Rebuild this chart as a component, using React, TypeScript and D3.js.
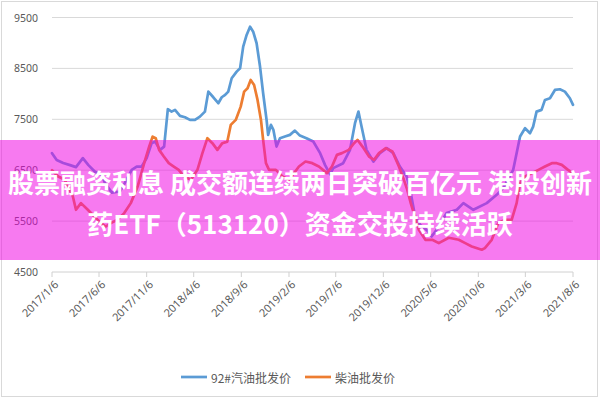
import React from "react";
import * as d3 from "d3";

const W = 600;
const H = 400;

const tickLabels = [
  "2017/1/6", "2017/6/6", "2017/11/6", "2018/4/6", "2018/9/6", "2019/2/6",
  "2019/7/6", "2019/12/6", "2020/5/6", "2020/10/6", "2021/3/6", "2021/8/6",
];
const yTicks = [4500, 5500, 6500, 7500, 8500, 9500];

const seriesNames = ["92#汽油批发价", "柴油批发价"];
const seriesColors = ["#5b9bd5", "#ed7d31"];

const titleLines = [
  "股票融资利息 成交额连续两日突破百亿元 港股创新",
  "药ETF（513120）资金交投持续活跃",
];

const gasolineDates = [
  "2017-01-06", "2017-01-21", "2017-02-11", "2017-03-05", "2017-03-24", "2017-04-15",
  "2017-05-03", "2017-05-24", "2017-06-15", "2017-06-25", "2017-07-17", "2017-08-12",
  "2017-08-28", "2017-09-19", "2017-10-05", "2017-10-21", "2017-11-06", "2017-11-22",
  "2017-12-03", "2017-12-19", "2018-01-01", "2018-01-13", "2018-01-25", "2018-02-05",
  "2018-02-21", "2018-03-09", "2018-03-25", "2018-04-10", "2018-04-26", "2018-05-12",
  "2018-05-23", "2018-06-08", "2018-06-24", "2018-07-05", "2018-07-16", "2018-07-26",
  "2018-08-06", "2018-08-22", "2018-09-02", "2018-09-12", "2018-09-23", "2018-10-04",
  "2018-10-14", "2018-10-25", "2018-11-05", "2018-11-15", "2018-11-26", "2018-12-01",
  "2018-12-10", "2018-12-18", "2018-12-28", "2019-01-08", "2019-01-24", "2019-02-09",
  "2019-02-25", "2019-03-13", "2019-04-03", "2019-04-25", "2019-05-17", "2019-06-02",
  "2019-06-18", "2019-06-28", "2019-07-30", "2019-08-21", "2019-09-06", "2019-09-17",
  "2019-09-27", "2019-10-13", "2019-11-04", "2019-11-25", "2019-12-17", "2020-01-07",
  "2020-01-28", "2020-02-19", "2020-03-01", "2020-03-17", "2020-04-02", "2020-04-23",
  "2020-05-09", "2020-05-25", "2020-06-26", "2020-07-29", "2020-08-19", "2020-09-20",
  "2020-11-02", "2020-12-04", "2020-12-25", "2021-01-26", "2021-02-17", "2021-03-05",
  "2021-03-21", "2021-03-31", "2021-04-11", "2021-04-27", "2021-05-08", "2021-05-24",
  "2021-06-09", "2021-06-25", "2021-07-11", "2021-07-27", "2021-08-06",
];
const gasolineValues = [
  6835, 6700, 6640, 6600, 6560, 6737,
  6600, 6470, 6409, 6250, 6060, 6081,
  6252, 6507, 6572, 6572, 6737, 7031,
  7062, 6899, 6964, 7698, 7651, 7685,
  7567, 7541, 7488, 7488, 7553, 7650,
  8044, 7933, 7816, 7933, 7979, 8044,
  8306, 8436, 8503, 8927, 9157, 9320,
  9221, 8994, 8536, 8012, 7488, 7194,
  7390, 7292, 6964, 7129, 7161, 7194,
  7278, 7180, 7129, 7063, 6835, 6600,
  6420, 6540, 6638, 6900, 7423, 7651,
  7357, 6900, 6670, 6835, 6933, 6835,
  6572, 6375, 6114, 5590, 5427, 5329,
  5198, 5329, 5657, 5722, 5853, 5722,
  5853, 6016, 6147, 6507, 7161, 7325,
  7227, 7357, 7651, 7685, 7881, 7914,
  8077, 8090, 8044, 7914, 7783,
];

const dieselDates = [
  "2017-01-06", "2017-01-26", "2017-02-16", "2017-03-14", "2017-03-24", "2017-04-09",
  "2017-05-01", "2017-05-22", "2017-06-12", "2017-06-28", "2017-07-14", "2017-08-04",
  "2017-08-26", "2017-09-16", "2017-10-08", "2017-10-29", "2017-11-14", "2017-11-25",
  "2017-12-05", "2017-12-16", "2017-12-31", "2018-01-16", "2018-02-01", "2018-02-17",
  "2018-03-06", "2018-03-28", "2018-04-18", "2018-05-04", "2018-05-20", "2018-06-05",
  "2018-06-21", "2018-07-07", "2018-07-23", "2018-08-03", "2018-08-19", "2018-09-04",
  "2018-09-15", "2018-09-26", "2018-10-06", "2018-10-17", "2018-10-28", "2018-11-08",
  "2018-11-15", "2018-11-24", "2018-12-04", "2018-12-26", "2019-01-16", "2019-02-06",
  "2019-03-10", "2019-03-31", "2019-04-22", "2019-05-13", "2019-06-08", "2019-06-24",
  "2019-07-10", "2019-07-26", "2019-08-17", "2019-09-03", "2019-09-14", "2019-09-30",
  "2019-10-21", "2019-11-06", "2019-11-22", "2019-12-14", "2020-01-04", "2020-01-25",
  "2020-02-10", "2020-02-21", "2020-03-03", "2020-03-29", "2020-04-19", "2020-05-11",
  "2020-06-01", "2020-07-03", "2020-08-04", "2020-08-25", "2020-09-15", "2020-10-17",
  "2020-10-27", "2020-11-18", "2020-12-09", "2020-12-31", "2021-01-21", "2021-02-06",
  "2021-02-17", "2021-03-05", "2021-03-27", "2021-04-17", "2021-05-08", "2021-05-30",
  "2021-06-15", "2021-07-01", "2021-07-21", "2021-08-06",
];
const dieselValues = [
  6500, 6375, 6311, 5983, 5722, 5853,
  5722, 5590, 5461, 5394, 5461, 5525,
  5657, 5853, 6179, 6638, 6964, 7160,
  7129, 6899, 6768, 6638, 6572, 6507,
  6375, 6311, 6507, 6835, 7129, 7031,
  6899, 7031, 7062, 7390, 7488, 7749,
  8044, 8110, 8273, 8175, 7881, 7488,
  7096, 6638, 6507, 6507, 6375, 6311,
  6572, 6670, 6638, 6572, 6442, 6572,
  6801, 6835, 6899, 7031, 7096, 6964,
  6768, 6703, 6835, 6933, 6866, 6572,
  6311, 6114, 5853, 5329, 5133, 5133,
  5068, 5172, 5133, 5068, 5001, 4937,
  4970, 5133, 5461, 5525, 5525, 5853,
  6246, 6375, 6442, 6507, 6572, 6638,
  6638, 6605, 6507, 6442,
];

const parse = d3.timeParse("%Y-%m-%d");
const parseTick = d3.timeParse("%Y/%m/%d");

export default function App() {
  const x = d3
    .scaleTime()
    .domain([parse("2017-01-06") as Date, parse("2021-08-06") as Date])
    .range([52, 573]);
  const y = d3.scaleLinear().domain([4500, 9500]).range([272, 17.5]);

  const line = d3
    .line<[Date, number]>()
    .x((d) => x(d[0]))
    .y((d) => y(d[1]));

  const gas: [Date, number][] = gasolineDates.map((d, i) => [parse(d) as Date, gasolineValues[i]]);
  const dsl: [Date, number][] = dieselDates.map((d, i) => [parse(d) as Date, dieselValues[i]]);

  const tickDates = tickLabels.map((t) => parseTick(t) as Date);
  const labelFont = "'Noto Sans', 'DejaVu Sans', sans-serif";
  const cjkFont = "'Noto Sans CJK SC', 'Noto Sans', sans-serif";

  return (
    <svg
      width={W}
      height={H}
      style={{ position: "absolute", left: 0, top: 0, background: "#fff" }}
    >
      <rect x={1.5} y={1.5} width={596} height={395} fill="#fff" stroke="#d9d9d9" />
      {yTicks.map((t) => (
        <g key={t}>
          {t !== 4500 && (
            <line x1={52} x2={573} y1={y(t)} y2={y(t)} stroke="#d9d9d9" strokeWidth={1} />
          )}
          <text
            x={38}
            y={y(t)}
            textAnchor="end"
            dominantBaseline="central"
            fontSize={10.5}
            fill="#595959"
            fontFamily={labelFont}
          >
            {t}
          </text>
        </g>
      ))}
      <line x1={52} x2={573} y1={y(4500)} y2={y(4500)} stroke="#d0d0d0" strokeWidth={1} />
      {tickDates.map((d, i) => (
        <g key={i}>
          <line x1={x(d)} x2={x(d)} y1={y(4500)} y2={y(4500) + 5} stroke="#d0d0d0" />
          <text
            transform={`translate(${x(d) + 4},${y(4500) + 10}) rotate(-45)`}
            textAnchor="end"
            dominantBaseline="central"
            fontSize={11}
            fill="#595959"
            fontFamily={labelFont}
          >
            {tickLabels[i]}
          </text>
        </g>
      ))}
      <path d={line(gas) || ""} fill="none" stroke={seriesColors[0]} strokeWidth={2.7} strokeLinejoin="round" strokeLinecap="round" />
      <path d={line(dsl) || ""} fill="none" stroke={seriesColors[1]} strokeWidth={2.7} strokeLinejoin="round" strokeLinecap="round" />

      {/* legend */}
      {seriesNames.map((n, i) => {
        const lx = i === 0 ? 181 : 305;
        return (
          <g key={n}>
            <line x1={lx} x2={lx + 26} y1={377} y2={377} stroke={seriesColors[i]} strokeWidth={2.7} />
            <text
              x={lx + 30}
              y={377}
              dominantBaseline="central"
              fontSize={12}
              fill="#595959"
              fontFamily={cjkFont}
            >
              {n}
            </text>
          </g>
        );
      })}

      {/* overlay banner */}
      <rect x={0} y={140} width={600} height={120} fill="rgb(240,0,226)" opacity={0.52} />
      {titleLines.map((t, i) => (
        <text
          key={i}
          x={300}
          y={181.5 + i * 41}
          textAnchor="middle"
          dominantBaseline="central"
          fontSize={26}
          fontWeight="bold"
          fill="#fff"
          fontFamily={cjkFont}
        >
          {t}
        </text>
      ))}
    </svg>
  );
}
